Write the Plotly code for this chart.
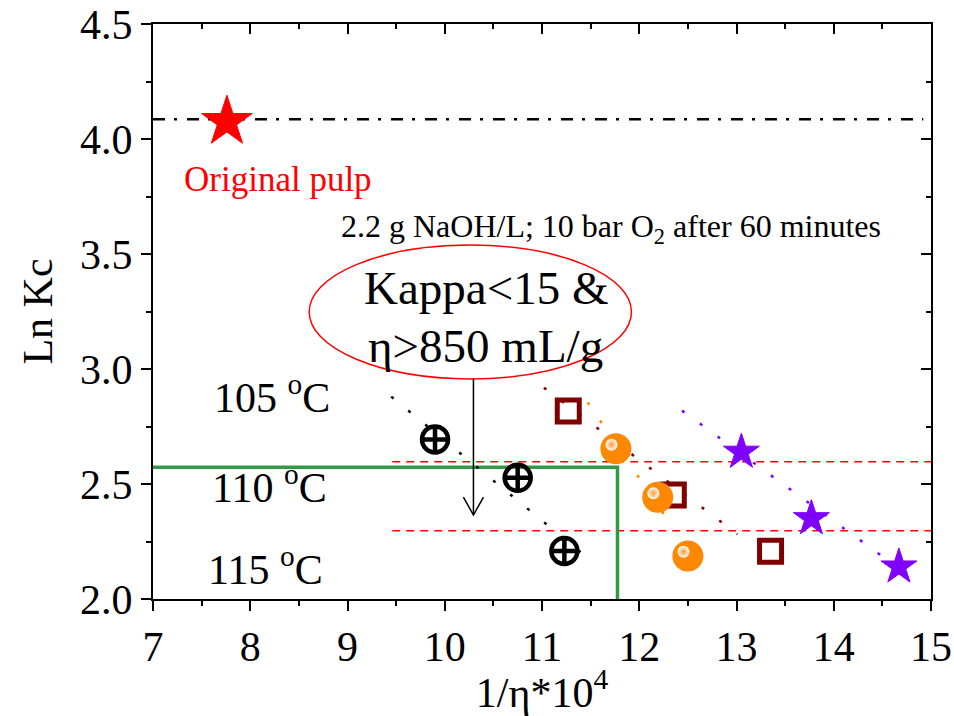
import plotly.graph_objects as go

FONT = "Liberation Serif, Times New Roman, serif"

# ---------------- data ----------------
s1_x = [9.90, 10.75, 11.23]          # black circle-cross
s1_y = [2.694, 2.527, 2.209]
s2_x = [11.27, 12.35, 13.35]         # brown open squares
s2_y = [2.817, 2.452, 2.208]
s3_x = [11.76, 12.19, 12.50]         # orange spheres
s3_y = [2.653, 2.442, 2.187]
s4_x = [13.05, 13.77, 14.67]         # violet stars
s4_y = [2.639, 2.350, 2.140]
orig_x = [7.76]                      # original pulp
orig_y = [4.075]

fit1_x = [9.45, 11.46]
fit1_y = [2.880, 2.181]
fit2_x = [11.02, 13.01]
fit2_y = [2.919, 2.281]
fit3_x = [11.47, 12.34]
fit3_y = [2.855, 2.314]
fit4_x = [12.44, 14.49]
fit4_y = [2.819, 2.188]

orig_level_x = [7.0, 14.92]
orig_level_y = [4.086, 4.086]
dash_levels = [2.597, 2.297]
dash_x = [9.46, 15.0]
green_x = [7.0, 11.776, 11.776]
green_y = [2.573, 2.573, 2.0]

x_ticks = [7, 8, 9, 10, 11, 12, 13, 14, 15]
y_ticks = [2.0, 2.5, 3.0, 3.5, 4.0, 4.5]

# ---------------- figure ----------------
fig = go.Figure()

def dotted(x, y, color):
    fig.add_trace(go.Scatter(x=x, y=y, mode="lines", showlegend=False, hoverinfo="skip",
                             line=dict(color=color, width=2.5, dash="3px,19px")))

# reference lines
fig.add_trace(go.Scatter(x=orig_level_x, y=orig_level_y, mode="lines", showlegend=False,
                         line=dict(color="black", width=2.5, dash="12px,9px,3px,10px")))
for lv in dash_levels:
    fig.add_trace(go.Scatter(x=dash_x, y=[lv, lv], mode="lines", showlegend=False,
                             line=dict(color="#FF0000", width=1.5, dash="8px,6px")))
fig.add_trace(go.Scatter(x=green_x, y=green_y, mode="lines", showlegend=False,
                         line=dict(color="#339944", width=3.5)))

dotted(fit1_x, fit1_y, "black")
dotted(fit2_x, fit2_y, "#800000")
dotted(fit3_x, fit3_y, "#FF8800")
dotted(fit4_x, fit4_y, "#8000FF")

# markers
fig.add_trace(go.Scatter(x=s1_x, y=s1_y, mode="markers", showlegend=False,
                         marker=dict(symbol="circle-cross-open", size=26, color="black",
                                     line=dict(width=4.5, color="black"))))
fig.add_trace(go.Scatter(x=s2_x, y=s2_y, mode="markers", showlegend=False,
                         marker=dict(symbol="square-open", size=22, color="#800000",
                                     line=dict(width=5, color="#800000"))))
fig.add_trace(go.Scatter(x=s3_x, y=s3_y, mode="markers", showlegend=False,
                         marker=dict(symbol="circle", size=31, color="#FF8800",
                                     line=dict(width=0))))
# specular highlight on the spheres (style only)
fig.add_trace(go.Scatter(x=[v - 0.045 for v in s3_x], y=[v + 0.018 for v in s3_y],
                         mode="markers", showlegend=False, hoverinfo="skip",
                         marker=dict(symbol="circle", size=12, color="#FFFFFF",
                                     gradient=dict(type="radial", color="#FF9A30"),
                                     line=dict(width=0))))
fig.add_trace(go.Scatter(x=s4_x, y=s4_y, mode="markers", showlegend=False,
                         marker=dict(symbol="star", size=27, color="#8000FF",
                                     line=dict(width=1, color="#8000FF"))))
fig.add_trace(go.Scatter(x=orig_x, y=orig_y, mode="markers", showlegend=False,
                         marker=dict(symbol="star", size=38, color="#FF0000",
                                     line=dict(width=1, color="#FF0000"))))
# dummy trace to create mirror axes
fig.add_trace(go.Scatter(x=[None], y=[None], xaxis="x2", yaxis="y2", showlegend=False))

# ---------------- annotations ----------------
ann = []
def txt(x, y, s, size, color="black"):
    ann.append(dict(x=x, y=y, xref="x", yref="y", text=s, showarrow=False,
                    font=dict(family=FONT, size=size, color=color),
                    xanchor="center", yanchor="middle"))

txt(8.29, 3.822, "Original pulp", 35, "#FF0000")
txt(11.706, 3.609, "2.2 g NaOH/L; 10 bar O<sub>2</sub> after 60 minutes", 32)
txt(10.424, 3.352, "Kappa&lt;15 &amp;", 47)
txt(10.424, 3.100, "η&gt;850 mL/g", 47)
txt(8.22, 2.887, "105 <sup>o</sup>C", 42)
txt(8.194, 2.50, "110 <sup>o</sup>C", 42)
txt(8.16, 2.140, "115 <sup>o</sup>C", 42)

# ellipse and arrow
ELL = dict(x0=8.606, x1=11.92, y0=2.957, y1=3.539)
AR_X, AR_Y0, AR_Y1 = 10.295, 2.957, 2.365
HEAD_DX, HEAD_DY = 0.103, 0.078
shapes = [
    dict(type="circle", xref="x", yref="y", line=dict(color="#FF0000", width=1.5), **ELL),
    dict(type="line", xref="x", yref="y", x0=AR_X, x1=AR_X, y0=AR_Y0, y1=AR_Y1,
         line=dict(color="black", width=1.5)),
    dict(type="path", xref="x", yref="y",
         path=f"M{AR_X - HEAD_DX},{AR_Y1 + HEAD_DY} L{AR_X},{AR_Y1} L{AR_X + HEAD_DX},{AR_Y1 + HEAD_DY}",
         line=dict(color="black", width=1.5)),
]

axis_common = dict(showgrid=False, zeroline=False, showline=True, linecolor="black",
                   linewidth=2, tickcolor="black", tickwidth=2, ticklen=10, automargin=False)

fig.update_layout(
    width=954, height=716,
    margin=dict(l=153, r=23, t=24, b=117),
    paper_bgcolor="white", plot_bgcolor="white",
    font=dict(family=FONT, color="black"),
    showlegend=False,
    annotations=ann,
    shapes=shapes,
    xaxis=dict(range=[7, 15], tickvals=x_ticks, ticktext=[str(v) for v in x_ticks],
               ticks="outside", tickfont=dict(size=42, family=FONT),
               minor=dict(dtick=0.5, ticks="outside", ticklen=5, tickwidth=2, tickcolor="black"),
               title=dict(text="1/η*10<sup>4</sup>", font=dict(size=42, family=FONT), standoff=6),
               **axis_common),
    yaxis=dict(range=[2.0, 4.5], tickvals=y_ticks, ticktext=[f"{v:.1f}" for v in y_ticks],
               ticks="outside", tickfont=dict(size=42, family=FONT),
               minor=dict(dtick=0.25, ticks="outside", ticklen=5, tickwidth=2, tickcolor="black"),
               title=dict(text="Ln Kc", font=dict(size=42, family=FONT), standoff=14),
               **axis_common),
    xaxis2=dict(range=[7, 15], overlaying="x", side="top", anchor="y", ticks="inside",
                tickvals=x_ticks, showticklabels=False,
                minor=dict(dtick=0.5, ticks="inside", ticklen=5, tickwidth=2, tickcolor="black"),
                **axis_common),
    yaxis2=dict(range=[2.0, 4.5], overlaying="y", side="right", anchor="x", ticks="inside",
                tickvals=y_ticks, showticklabels=False,
                minor=dict(dtick=0.25, ticks="inside", ticklen=5, tickwidth=2, tickcolor="black"),
                **axis_common),
)

fig.write_html("out.html")
